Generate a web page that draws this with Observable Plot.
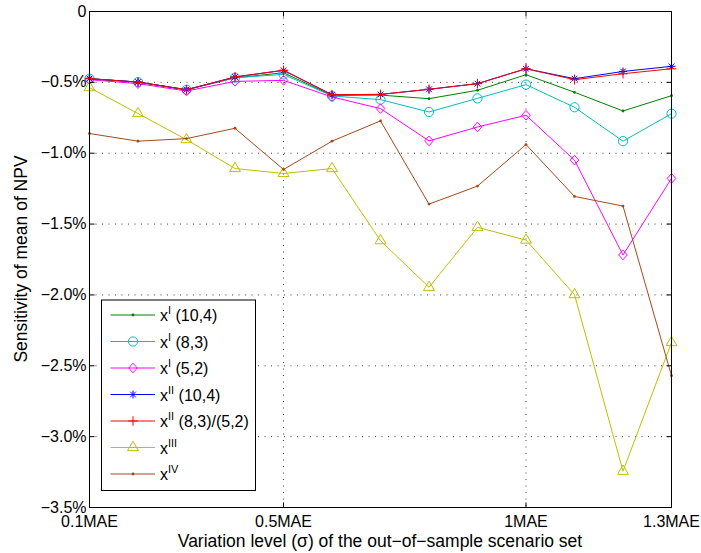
<!DOCTYPE html>
<html><head><meta charset="utf-8">
<script src="https://cdn.jsdelivr.net/npm/d3@7"></script>
<script src="https://cdn.jsdelivr.net/npm/@observablehq/plot@0.6"></script>
<style>
body{margin:0;background:#fff}
svg{font-family:"Liberation Sans",Arial,Helvetica,sans-serif}
</style>
</head><body><div id="chart"></div>
<script>
// ---- data ----
const levels = [0.1,0.2,0.3,0.4,0.5,0.6,0.7,0.8,0.9,1.0,1.1,1.2,1.3];
const xI_10_4 = [-0.474,-0.498,-0.552,-0.469,-0.432,-0.592,-0.590,-0.615,-0.556,-0.446,-0.570,-0.702,-0.594];
const xI_8_3  = [-0.474,-0.498,-0.552,-0.467,-0.444,-0.596,-0.622,-0.709,-0.613,-0.516,-0.676,-0.915,-0.721];
const xI_5_2  = [-0.481,-0.509,-0.561,-0.493,-0.486,-0.603,-0.685,-0.913,-0.815,-0.732,-1.049,-1.718,-1.178];
const xII_10_4 = [-0.474,-0.498,-0.552,-0.462,-0.415,-0.587,-0.585,-0.549,-0.509,-0.404,-0.474,-0.423,-0.387];
const xII_8_3_5_2 = [-0.474,-0.498,-0.552,-0.462,-0.415,-0.587,-0.585,-0.549,-0.509,-0.404,-0.481,-0.439,-0.404];
const xIII = [-0.537,-0.720,-0.904,-1.108,-1.143,-1.108,-1.617,-1.946,-1.523,-1.613,-1.998,-3.244,-2.336];
const xIV  = [-0.861,-0.915,-0.897,-0.824,-1.115,-0.915,-0.772,-1.359,-1.232,-0.939,-1.305,-1.373,-2.570];

const seriesNames = [["x","I"," (10,4)"],["x","I"," (8,3)"],["x","I"," (5,2)"],["x","II"," (10,4)"],["x","II"," (8,3)/(5,2)"],["x","III",""],["x","IV",""]];
const seriesValues = [xI_10_4, xI_8_3, xI_5_2, xII_10_4, xII_8_3_5_2, xIII, xIV];
const yTicks = [0,-0.5,-1.0,-1.5,-2.0,-2.5,-3.0,-3.5];
const xTicks = [0.1,0.5,1.0,1.3];

// ---- styles ----
const colors = ["#008000","#00bfbf","#ff00ff","#0000ff","#ff0000","#bfbf00","#a5491c"];
const R = (s)=>Math.sqrt(s/Math.PI);
const symbols = {
  dot:{draw(c,s){const r=R(s);c.moveTo(r,0);c.arc(0,0,r,0,2*Math.PI);}},
  circle:{draw(c,s){const r=R(s);c.moveTo(r,0);c.arc(0,0,r,0,2*Math.PI);}},
  diamond:{draw(c,s){const r=R(s);c.moveTo(0,-r);c.lineTo(r*0.9,0);c.lineTo(0,r);c.lineTo(-r*0.9,0);c.closePath();}},
  star:{draw(c,s){const r=R(s),q=r*0.7071;c.moveTo(-r,0);c.lineTo(r,0);c.moveTo(0,-r);c.lineTo(0,r);c.moveTo(-q,-q);c.lineTo(q,q);c.moveTo(-q,q);c.lineTo(q,-q);}},
  plus:{draw(c,s){const r=R(s);c.moveTo(-r,0);c.lineTo(r,0);c.moveTo(0,-r);c.lineTo(0,r);}},
  triangle:{draw(c,s){const r=R(s);c.moveTo(0,-r);c.lineTo(r*0.88,r*0.5);c.lineTo(-r*0.88,r*0.5);c.closePath();}}
};
const markers = [["dot",1.4],["circle",4.6],["diamond",4.8],["star",4],["plus",4.8],["triangle",6.2],["dot",1.4]];
const tickSym = (dx,dy)=>({draw(c){c.moveTo(0,0);c.lineTo(dx,dy);}});

const rows = [];
seriesValues.forEach((vals,si)=>vals.forEach((v,i)=>rows.push({s:si,x:levels[i],y:v})));

const marks = [
  Plot.gridY(yTicks.slice(1,-1),{stroke:"#000",strokeOpacity:0.75,strokeDasharray:"1,5.5",strokeWidth:1}),
  Plot.gridX([0.5,1.0],{stroke:"#000",strokeOpacity:0.75,strokeDasharray:"1,5.5",strokeWidth:1}),
];
seriesValues.forEach((vals,si)=>{
  const d = rows.filter(r=>r.s===si);
  const [sym,r] = markers[si];
  const filled = sym==="dot";
  marks.push(Plot.line(d,{x:"x",y:"y",stroke:colors[si],strokeWidth:1}));
  marks.push(Plot.dot(d,{x:"x",y:"y",symbol:symbols[sym],r,stroke:filled?"none":colors[si],fill:filled?colors[si]:"none",strokeWidth:1}));
});
// inward ticks on all four sides
marks.push(Plot.dot(yTicks,{x:0.1,y:d=>d,symbol:tickSym(5,0),stroke:"#000",strokeWidth:1}));
marks.push(Plot.dot(yTicks,{x:1.3,y:d=>d,symbol:tickSym(-5,0),stroke:"#000",strokeWidth:1}));
marks.push(Plot.dot(xTicks,{x:d=>d,y:-3.5,symbol:tickSym(0,-5),stroke:"#000",strokeWidth:1}));
marks.push(Plot.dot(xTicks,{x:d=>d,y:0,symbol:tickSym(0,5),stroke:"#000",strokeWidth:1}));
marks.push(Plot.frame({stroke:"#000",strokeWidth:1}));
marks.push(Plot.axisY(yTicks,{tickSize:0,tickPadding:3,fontSize:16,label:null,
  tickFormat:d=>d===0?"0":"\u2212"+Math.abs(d).toFixed(1)+"%"}));
marks.push(Plot.axisX(xTicks,{tickSize:0,tickPadding:8,fontSize:16,label:null,
  tickFormat:d=>(d===1?"1":String(d))+"MAE"}));

const plot = Plot.plot({
  width:701,height:553,
  marginLeft:89,marginRight:30,marginTop:11,marginBottom:46,
  x:{domain:[0.1,1.3]},
  y:{domain:[-3.5,0]},
  style:{fontFamily:'"Liberation Sans",Arial,sans-serif',background:"#fff",color:"#000"},
  marks
});
document.getElementById("chart").appendChild(plot);

const svg = d3.select(plot);
// axis titles
svg.append("text").attr("x",380).attr("y",547).attr("text-anchor","middle")
  .attr("font-size",17.5).attr("fill","#000")
  .text("Variation level (\u03c3) of the out\u2212of\u2212sample scenario set");
svg.append("text").attr("transform","translate(27,259) rotate(-90)").attr("text-anchor","middle")
  .attr("font-size",17.5).attr("fill","#000").text("Sensitivity of mean of NPV");

// legend
const lg = svg.append("g");
lg.append("rect").attr("x",101.5).attr("y",300).attr("width",154).attr("height",190.5)
  .attr("fill","#fff").attr("stroke","#000").attr("stroke-width",1);
seriesNames.forEach((nm,i)=>{
  const y = 315 + i*26.5;
  const [sym,r] = markers[i];
  const filled = sym==="dot";
  lg.append("line").attr("x1",110.5).attr("x2",155).attr("y1",y).attr("y2",y).attr("stroke",colors[i]).attr("stroke-width",1);
  lg.append("path").attr("transform",`translate(133,${y})`)
    .attr("d",d3.symbol(symbols[sym],r*r*Math.PI)())
    .attr("fill",filled?colors[i]:"none").attr("stroke",filled?"none":colors[i]);
  const t = lg.append("text").attr("x",160).attr("y",y+6).attr("font-size",16)
    .attr("text-anchor","start").attr("fill","#000");
  t.append("tspan").text(nm[0]);
  t.append("tspan").attr("font-size",11).attr("dy",-7).text(nm[1]);
  t.append("tspan").attr("dy",7).text(nm[2]);
});
</script></body></html>
